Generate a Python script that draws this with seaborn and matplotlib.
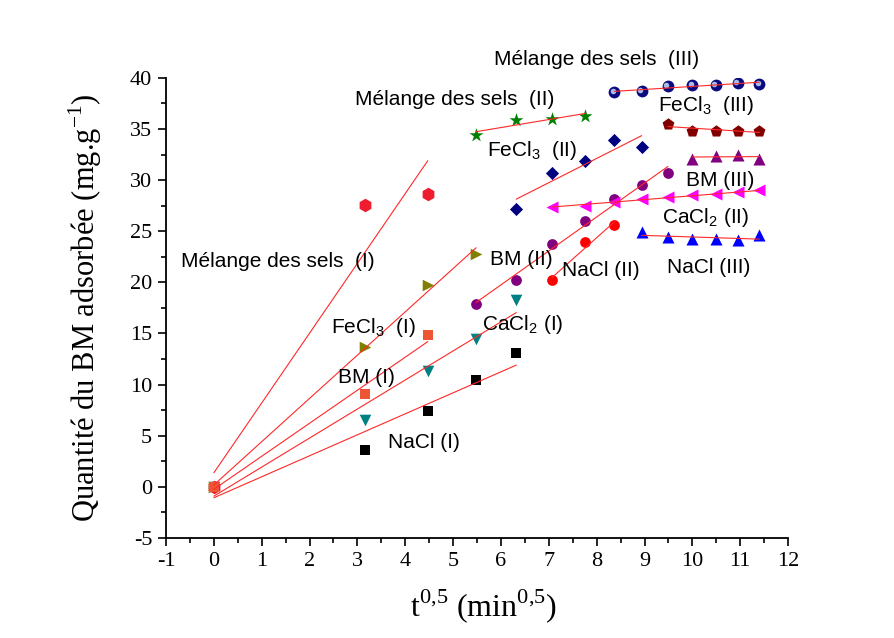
import numpy as np
import matplotlib
matplotlib.use("Agg")
import matplotlib.pyplot as plt
import matplotlib.transforms as mtransforms
from matplotlib.ticker import MultipleLocator
import seaborn as sns

# Square root of contact time (min^0.5) for the three diffusion stages
nacl_1_x = [0.0, 3.16, 4.47, 5.48, 6.32]
nacl_1_y = [0.0, 3.6, 7.4, 10.4, 13.1]
nacl_2_x = [7.07, 7.75, 8.37]
nacl_2_y = [20.2, 23.9, 25.6]
nacl_3_x = [8.94, 9.49, 10.0, 10.49, 10.95, 11.40]
nacl_3_y = [24.9, 24.4, 24.2, 24.2, 24.1, 24.6]

cacl2_1_x = [0.0, 3.16, 4.47, 5.48, 6.32]
cacl2_1_y = [0.0, 6.55, 11.3, 14.45, 18.3]
cacl2_2_x = [7.07, 7.75, 8.37, 8.94, 9.49, 10.0, 10.49, 10.95, 11.40]
cacl2_2_y = [27.4, 27.5, 27.9, 28.1, 28.3, 28.5, 28.6, 28.8, 29.0]

bm_1_x = [0.0, 3.16, 4.47]
bm_1_y = [0.0, 9.1, 14.8]
bm_2_x = [5.48, 6.32, 7.07, 7.75, 8.37, 8.94, 9.49]
bm_2_y = [17.9, 20.25, 23.7, 26.0, 28.1, 29.5, 30.7]
bm_3_x = [10.0, 10.49, 10.95, 11.40]
bm_3_y = [32.1, 32.4, 32.5, 32.1]

fecl3_1_x = [0.0, 3.16, 4.47, 5.48]
fecl3_1_y = [0.0, 13.7, 19.7, 22.8]
fecl3_2_x = [6.32, 7.07, 7.75, 8.37, 8.94]
fecl3_2_y = [27.2, 30.7, 31.9, 33.9, 33.2]
fecl3_3_x = [9.49, 10.0, 10.49, 10.95, 11.40]
fecl3_3_y = [35.5, 34.8, 34.8, 34.8, 34.8]

mix_1_x = [0.0, 3.16, 4.47]
mix_1_y = [0.0, 27.6, 28.6]
mix_2_x = [5.48, 6.32, 7.07, 7.75]
mix_2_y = [34.4, 35.9, 36.0, 36.3]
mix_3_x = [8.37, 8.94, 9.49, 10.0, 10.49, 10.95, 11.40]
mix_3_y = [38.6, 38.7, 39.2, 39.3, 39.3, 39.5, 39.4]

x_ticks = list(range(-1, 13))
y_ticks = list(range(-5, 41, 5))

sns.set_theme(style="ticks")
plt.rcParams.update({
    "font.family": ["Liberation Sans", "DejaVu Sans"],
    "mathtext.fontset": "custom",
    "mathtext.rm": "Liberation Serif",
    "mathtext.sf": "Liberation Sans",
    "axes.unicode_minus": False,
    "axes.facecolor": "white",
    "figure.facecolor": "white",
})

fig = plt.figure(figsize=(8.95, 6.38), dpi=100)
ax = fig.add_axes([0.1855, 0.157, 0.695, 0.721])

# (x, y, marker, colour, marker area)
series = [
    (nacl_1_x, nacl_1_y, "s", "#000000", 45),
    (cacl2_1_x, cacl2_1_y, "v", "#008080", 70),
    (fecl3_1_x, fecl3_1_y, ">", "#808000", 70),
    (mix_1_x, mix_1_y, "h", "#EE1C2E", 95),
    (bm_1_x, bm_1_y, "s", "#EE5535", 45),
    (bm_2_x, bm_2_y, "o", "#800080", 60),
    (nacl_2_x, nacl_2_y, "o", "#FF0000", 60),
    (cacl2_2_x, cacl2_2_y, "<", "#FF00FF", 75),
    (nacl_3_x, nacl_3_y, "^", "#0000FF", 75),
    (bm_3_x, bm_3_y, "^", "#800080", 75),
    (fecl3_2_x, fecl3_2_y, "D", "#000080", 45),
    (fecl3_3_x, fecl3_3_y, "p", "#800000", 80),
    (mix_2_x, mix_2_y, "*", "#008000", 110),
    (mix_3_x, mix_3_y, "o", "#0A0A80", 72),
]

for x, y, m, c, s in series:
    sns.scatterplot(x=x, y=y, marker=m, color=c, s=s, linewidth=0,
                    ax=ax, zorder=3, legend=False)
    sns.regplot(x=np.array(x), y=np.array(y), scatter=False, ci=None,
                truncate=True, ax=ax,
                line_kws=dict(color="#FF2828", lw=0.8, zorder=4))

# glossy highlight on the sphere markers
shift = mtransforms.offset_copy(ax.transData, fig=fig, x=-1.2, y=0.8, units="points")
ax.scatter(mix_3_x, mix_3_y, s=16, color="#A8BCE6", linewidth=0, zorder=3.5,
           transform=shift)

ax.set_xlim(-1, 12)
ax.set_ylim(-5, 40)
ax.set_xticks(x_ticks)
ax.set_yticks(y_ticks)
ax.xaxis.set_minor_locator(MultipleLocator(0.5))
ax.yaxis.set_minor_locator(MultipleLocator(2.5))
ax.tick_params(which="major", direction="out", length=6, width=1.2,
               color="black", labelsize=16, labelcolor="black", pad=4)
ax.tick_params(which="minor", direction="out", length=3.5, width=1.2, color="black")
for lab in ax.get_xticklabels() + ax.get_yticklabels():
    lab.set_fontfamily("Liberation Serif")

for side in ("top", "right"):
    ax.spines[side].set_visible(False)
for side in ("left", "bottom"):
    ax.spines[side].set_color("black")
    ax.spines[side].set_linewidth(1.3)

ax.set_ylabel(r"Quantité du BM adsorbée (mg.g$^{-1}$)", fontfamily="Liberation Serif",
              fontsize=22, color="black")
ax.yaxis.set_label_coords(-0.1, 0.5)
ax.set_xlabel(r"t$^{0{,}5}$ (min$^{0{,}5}$)", fontfamily="Liberation Serif",
              fontsize=23, color="black")
ax.xaxis.set_label_coords(0.51, -0.108)

labels = [
    (8.0, 41.8, "Mélange des sels  (III)", "center"),
    (2.95, 37.9, "Mélange des sels  (II)", "left"),
    (9.28, 37.3, r"FeCl$_\mathsf{3}$  (III)", "left"),
    (5.7, 32.9, r"FeCl$_\mathsf{3}$  (II)", "left"),
    (9.86, 30.0, "BM (III)", "left"),
    (9.36, 26.3, r"CaCl$_\mathsf{2}$ (II)", "left"),
    (9.47, 21.4, "NaCl (III)", "left"),
    (5.77, 22.2, "BM (II)", "left"),
    (7.27, 21.2, "NaCl (II)", "left"),
    (-0.69, 22.0, "Mélange des sels  (I)", "left"),
    (2.45, 15.6, r"FeCl$_\mathsf{3}$  (I)", "left"),
    (5.6, 15.9, r"CaCl$_\mathsf{2}$ (I)", "left"),
    (2.59, 10.7, "BM (I)", "left"),
    (3.64, 4.3, "NaCl (I)", "left"),
]
for x, y, t, ha in labels:
    ax.text(x, y, t, ha=ha, va="center", fontsize=15, color="black",
            fontfamily="Liberation Sans", clip_on=False, zorder=5)

fig.savefig("out.png", dpi=100)
